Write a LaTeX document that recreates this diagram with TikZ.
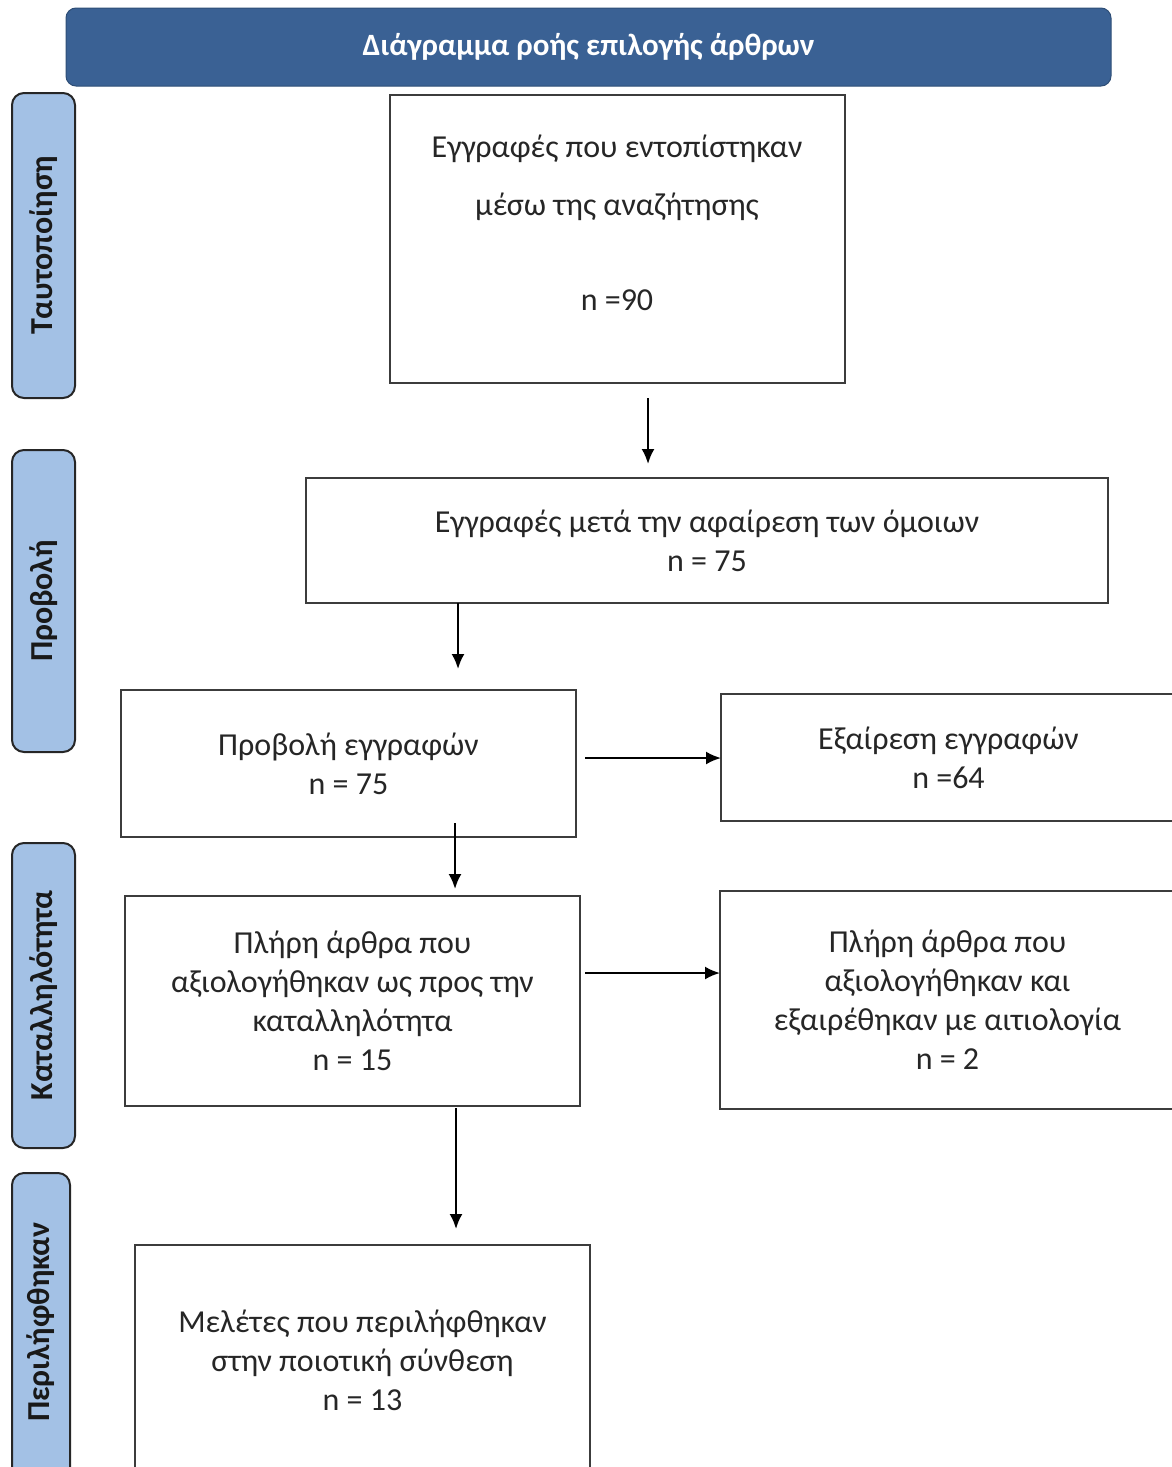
\documentclass[tikz,border=0pt]{standalone}
\usepackage{fontspec}
\setmainfont{Carlito}
\usetikzlibrary{arrows.meta}
\definecolor{hdrblue}{HTML}{3A6194}
\definecolor{sideblue}{HTML}{A3C1E5}
\definecolor{boxline}{HTML}{3C3C3C}
\tikzset{
  hdr/.style={draw=hdrblue!80!black, line width=1pt, fill=hdrblue, rounded corners=10pt, text=white, font=\bfseries\fontsize{31}{36}\selectfont},
  side/.style={draw=black!85, line width=2pt, fill=sideblue, rounded corners=12pt},
  sidetxt/.style={rotate=90, font=\bfseries\fontsize{32}{36}\selectfont, text=black!90},
  flowbox/.style={draw=boxline, line width=2pt, fill=white, align=center, inner sep=0pt, font=\fontsize{32}{39}\selectfont, text=black!85},
  txt/.style={align=center, inner sep=0pt, font=\fontsize{32}{39}\selectfont, text=black!85},
  arr/.style={draw=black, line width=2.2pt, -{Latex[length=15pt,width=13pt]}}
}
\begin{document}
\begin{tikzpicture}[x=1pt,y=-1pt]
\useasboundingbox (0,0) rectangle (1172,1467);
\clip (0,0) rectangle (1172,1467);
% header
\node[hdr, minimum width=1045pt, minimum height=78pt] (hdr) at (588.5,47) {Διάγραμμα ροής επιλογής άρθρων};
% side labels
\node[side, minimum width=63pt, minimum height=305pt] (s1) at (43.5,245.5) {};
\node[sidetxt] (s1t) at (s1.center) {Ταυτοποίηση};
\node[side, minimum width=63pt, minimum height=302pt] (s2) at (43.5,601) {};
\node[sidetxt] (s2t) at (s2.center) {Προβολή};
\node[side, minimum width=63pt, minimum height=305pt] (s3) at (43.5,995.5) {};
\node[sidetxt] (s3t) at (s3.center) {Καταλληλότητα};
\node[side, minimum width=58pt, minimum height=320pt] (s4) at (41,1333) {};
\node[sidetxt] (s4t) at (41,1322) {Περιλήφθηκαν};
% boxes
\node[flowbox, minimum width=455pt, minimum height=288pt] (b1) at (617.5,239) {};
\node[txt] (b1t) at (617,223) {Εγγραφές που εντοπίστηκαν\\[19pt] μέσω της αναζήτησης\\[56pt] n =90};
\node[flowbox, minimum width=802pt, minimum height=125pt] (b2) at (707,540.5) {Εγγραφές μετά την αφαίρεση των όμοιων\\ n = 75};
\node[flowbox, minimum width=455pt, minimum height=147pt] (b3) at (348.5,763.5) {Προβολή εγγραφών\\ n = 75};
\node[flowbox, minimum width=455pt, minimum height=127pt] (b4) at (948.5,757.5) {Εξαίρεση εγγραφών\\ n =64};
\node[flowbox, minimum width=455pt, minimum height=210pt] (b5) at (352.5,1001) {Πλήρη άρθρα που\\ αξιολογήθηκαν ως προς την\\ καταλληλότητα\\ n = 15};
\node[flowbox, minimum width=455pt, minimum height=218pt] (b6) at (947.5,1000) {Πλήρη άρθρα που\\ αξιολογήθηκαν και\\ εξαιρέθηκαν με αιτιολογία\\ n = 2};
\node[flowbox, minimum width=455pt, minimum height=230pt] (b7) at (362.5,1360) {Μελέτες που περιλήφθηκαν\\ στην ποιοτική σύνθεση\\ n = 13};
% connector ends
\coordinate (a1s) at (648,398); \coordinate (a1e) at (648,464);
\coordinate (a2s) at (458,603); \coordinate (a2e) at (458,669);
\coordinate (a3s) at (585,758); \coordinate (a3e) at (721,758);
\coordinate (a4s) at (455,823); \coordinate (a4e) at (455,889);
\coordinate (a5s) at (585,973); \coordinate (a5e) at (720,973);
\coordinate (a6s) at (456,1108); \coordinate (a6e) at (456,1229);
\draw[arr] (a1s) -- (a1e);
\draw[arr] (a2s) -- (a2e);
\draw[arr] (a3s) -- (a3e);
\draw[arr] (a4s) -- (a4e);
\draw[arr] (a5s) -- (a5e);
\draw[arr] (a6s) -- (a6e);
\end{tikzpicture}
\end{document}
